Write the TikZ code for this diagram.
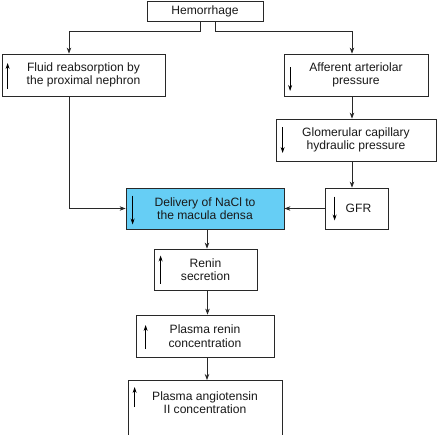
\documentclass[tikz,border=0pt]{standalone}
\usepackage{fontspec}
\setmainfont{Liberation Sans}
\usetikzlibrary{arrows.meta,calc}
\definecolor{linegray}{RGB}{40,40,40}
\definecolor{hiblue}{RGB}{102,206,245}
\tikzset{
  box/.style={draw=linegray, line width=0.8pt, rectangle, align=center, inner sep=0pt,
    font=\fontsize{12.1}{13.4}\selectfont, text=black!90},
  arr/.style={draw=linegray, line width=0.8pt, -{Stealth[length=6pt,width=4.5pt]}},
  tiny/.style={draw=black, line width=0.8pt, -{Stealth[length=6pt,width=4pt]}}
}
\begin{document}
\begin{tikzpicture}[x=1pt,y=-1pt]
\useasboundingbox (0,0) rectangle (438,434);
\clip (0,0) rectangle (438,434);
\fill[white] (0,0) rectangle (438,434);

\node[box, minimum width=116, minimum height=20] (hem) at (205,11) {Hemorrhage};
\node[box, minimum width=163, minimum height=42] (fluid) at (83.5,75) {Fluid reabsorption by\\the proximal nephron};
\node[box, minimum width=144, minimum height=42] (aff) at (356,75) {Afferent arteriolar\\pressure};
\node[box, minimum width=160, minimum height=42] (glom) at (356,140) {Glomerular capillary\\hydraulic pressure};
\node[box, fill=hiblue, minimum width=158, minimum height=41] (del) at (205,208.5) {Delivery of NaCl to\\the macula densa};
\node[box, minimum width=63, minimum height=41] (gfr) at (356.5,208.5) {\hspace*{4pt}GFR};
\node[box, minimum width=103, minimum height=41] (ren) at (205.5,269.5) {Renin\\secretion};
\node[box, minimum width=138, minimum height=42] (pren) at (205,336) {Plasma renin\\concentration};
\node[box, minimum width=154, minimum height=64, anchor=north] (ang) at (205,380) {};
\node[box, draw=none] (angt) at (205,402.5) {Plasma angiotensin\\II concentration};

% connectors
\draw[arr] ([xshift=-5pt]hem.south) -- ++(0,10) -| ([xshift=-14.5pt]fluid.north);
\draw[arr] ([xshift=10pt]hem.south) -- ++(0,10) -| ([xshift=-4pt]aff.north);
\draw[arr] ([xshift=-4pt]aff.south) -- ([xshift=-4pt]aff.south |- glom.north);
\draw[arr] ([xshift=-4pt]glom.south) -- ([xshift=-4pt]glom.south |- gfr.north);
\draw[arr] ([xshift=-14.5pt]fluid.south) |- (del.west);
\draw[arr] (gfr.west) -- (del.east);
\draw[arr] ([xshift=2pt]del.south) -- ([xshift=2pt]del.south |- ren.north);
\draw[arr] ([xshift=2pt]ren.south) -- ([xshift=2pt]ren.south |- pren.north);
\draw[arr] ([xshift=2pt]pren.south) -- ([xshift=2pt]pren.south |- ang.north);

% small up/down markers inside boxes
\draw[tiny] ($(fluid.west)+(6,14)$) -- ($(fluid.west)+(6,-12)$);
\draw[tiny] ($(aff.west)+(6.5,-8)$) -- ($(aff.west)+(6.5,16)$);
\draw[tiny] ($(glom.west)+(7,-13)$) -- ($(glom.west)+(7,13)$);
\draw[tiny] ($(del.west)+(7,-13)$) -- ($(del.west)+(7,16)$);
\draw[tiny] ($(gfr.west)+(10,-12)$) -- ($(gfr.west)+(10,12)$);
\draw[tiny] ($(ren.west)+(7,14)$) -- ($(ren.west)+(7,-14)$);
\draw[tiny] ($(pren.west)+(10,13)$) -- ($(pren.west)+(10,-11)$);
\draw[tiny] ($(ang.north west)+(7,27)$) -- ($(ang.north west)+(7,7)$);
\end{tikzpicture}
\end{document}
